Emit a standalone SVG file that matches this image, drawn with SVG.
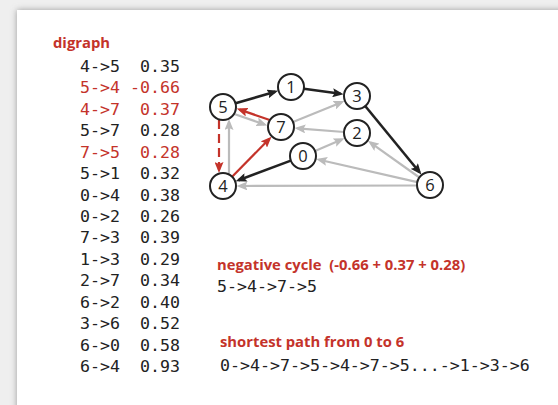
<svg xmlns="http://www.w3.org/2000/svg" width="558" height="405" viewBox="0 0 558 405">
<defs>
<filter id="sh" x="-10%" y="-10%" width="120%" height="120%"><feGaussianBlur stdDeviation="3"/></filter>
<marker id="ak" markerUnits="userSpaceOnUse" markerWidth="11" markerHeight="9" refX="8" refY="4.5" orient="auto"><path d="M0,0 L11,4.5 L0,9 L2,4.5 z" fill="#222"/></marker>
<marker id="ag" markerUnits="userSpaceOnUse" markerWidth="11" markerHeight="9" refX="8" refY="4.5" orient="auto"><path d="M0,0 L11,4.5 L0,9 L2,4.5 z" fill="#bbb"/></marker>
<marker id="ar" markerUnits="userSpaceOnUse" markerWidth="11" markerHeight="9" refX="8" refY="4.5" orient="auto"><path d="M0,0 L11,4.5 L0,9 L2,4.5 z" fill="#c4332a"/></marker>
<style>
.mono{font-family:"DejaVu Sans Mono","Liberation Mono",monospace;font-size:16.6px;fill:#222}
.red{fill:#c4332a}
.hd{font-family:"Open Sans","Liberation Sans",sans-serif;font-weight:bold;font-size:14.8px;fill:#c4332a}
.k{stroke:#222;stroke-width:2.6;fill:none;marker-end:url(#ak)}
.g{stroke:#bbb;stroke-width:2.2;fill:none;marker-end:url(#ag)}
.r{stroke:#c4332a;stroke-width:2.2;fill:none;marker-end:url(#ar)}
.node circle{fill:#fff;stroke:#222;stroke-width:2}
.node text{font-family:"Open Sans","Liberation Sans",sans-serif;font-size:16.5px;fill:#222;text-anchor:middle}
</style>
</defs>
<rect width="558" height="405" fill="#efefef"/>
<rect x="17" y="10" width="560" height="420" fill="#999" filter="url(#sh)"/>
<rect x="17" y="10" width="560" height="420" fill="#fff"/>

<text x="53" y="48" class="hd">digraph</text>
<g class="mono">
<text x="80" y="72">4-&gt;5</text><text x="180" y="72" text-anchor="end">0.35</text>
<text x="80" y="93.4" class="red">5-&gt;4</text><text x="180" y="93.4" text-anchor="end" class="red">-0.66</text>
<text x="80" y="114.9" class="red">4-&gt;7</text><text x="180" y="114.9" text-anchor="end" class="red">0.37</text>
<text x="80" y="136.3">5-&gt;7</text><text x="180" y="136.3" text-anchor="end">0.28</text>
<text x="80" y="157.7" class="red">7-&gt;5</text><text x="180" y="157.7" text-anchor="end" class="red">0.28</text>
<text x="80" y="179.1">5-&gt;1</text><text x="180" y="179.1" text-anchor="end">0.32</text>
<text x="80" y="200.6">0-&gt;4</text><text x="180" y="200.6" text-anchor="end">0.38</text>
<text x="80" y="222">0-&gt;2</text><text x="180" y="222" text-anchor="end">0.26</text>
<text x="80" y="243.4">7-&gt;3</text><text x="180" y="243.4" text-anchor="end">0.39</text>
<text x="80" y="264.9">1-&gt;3</text><text x="180" y="264.9" text-anchor="end">0.29</text>
<text x="80" y="286.3">2-&gt;7</text><text x="180" y="286.3" text-anchor="end">0.34</text>
<text x="80" y="307.7">6-&gt;2</text><text x="180" y="307.7" text-anchor="end">0.40</text>
<text x="80" y="329.1">3-&gt;6</text><text x="180" y="329.1" text-anchor="end">0.52</text>
<text x="80" y="350.6">6-&gt;0</text><text x="180" y="350.6" text-anchor="end">0.58</text>
<text x="80" y="372">6-&gt;4</text><text x="180" y="372" text-anchor="end">0.93</text>
</g>

<g id="connectors">
<path class="k" d="M235.5,103.3 L275.2,91.7"/>
<path class="k" d="M303.9,88.8 L340.6,93.8"/>
<path class="k" d="M365.2,106 L419.5,172.2"/>
<path class="k" d="M290.8,160.6 L238.5,180.2"/>
<path class="r" d="M219,120 L219,170" stroke-dasharray="9,5"/>
<path class="g" d="M229,174.5 L229,122"/>
<path class="r" d="M232.1,176.7 L269.4,138.8"/>
<path class="r" d="M269.7,120 L239.6,109.6"/>
<path class="g" d="M234.3,114 L264.4,124.4"/>
<path class="g" d="M293,122.1 L341.7,102.2"/>
<path class="g" d="M344,132 L297.5,128.3"/>
<path class="g" d="M315,150.9 L341.8,139.5"/>
<path class="g" d="M419.4,177.5 L370.4,142.6"/>
<path class="g" d="M417.3,182.1 L319.1,159.7"/>
<path class="g" d="M417,185.5 L239.5,186"/>
</g>

<g id="n0" class="node"><circle cx="303" cy="156" r="13"/><text x="303" y="161.8">0</text></g>
<g id="n1" class="node"><circle cx="291" cy="87" r="13"/><text x="291" y="92.8">1</text></g>
<g id="n2" class="node"><circle cx="357" cy="133" r="13"/><text x="357" y="138.8">2</text></g>
<g id="n3" class="node"><circle cx="357" cy="96" r="13"/><text x="357" y="101.8">3</text></g>
<g id="n4" class="node"><circle cx="223" cy="186" r="13"/><text x="223" y="191.8">4</text></g>
<g id="n5" class="node"><circle cx="223" cy="107" r="13"/><text x="223" y="112.8">5</text></g>
<g id="n6" class="node"><circle cx="430" cy="185" r="13"/><text x="430" y="190.8">6</text></g>
<g id="n7" class="node"><circle cx="281" cy="127" r="13"/><text x="281" y="132.8">7</text></g>

<text x="217" y="270" class="hd" style="white-space:pre">negative cycle  (-0.66 + 0.37 + 0.28)</text>
<text x="217" y="292" class="mono">5-&gt;4-&gt;7-&gt;5</text>
<text x="220" y="347" class="hd">shortest path from 0 to 6</text>
<text x="220" y="371" class="mono">0-&gt;4-&gt;7-&gt;5-&gt;4-&gt;7-&gt;5...-&gt;1-&gt;3-&gt;6</text>
</svg>
